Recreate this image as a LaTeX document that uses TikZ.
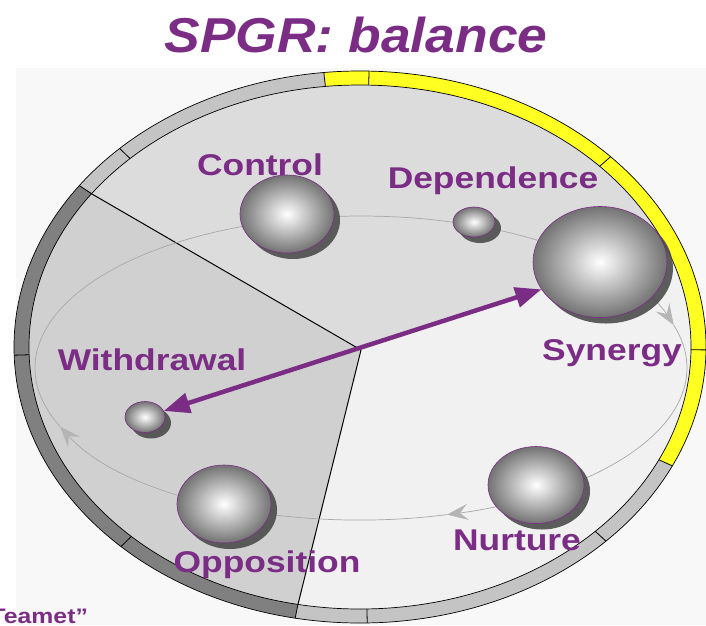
\documentclass[tikz,border=0pt]{standalone}
\usepackage{fontspec}
\usetikzlibrary{arrows.meta,shapes.geometric,shadows,positioning}
\newfontfamily\lblfont[FakeStretch=1.18]{Liberation Sans}
\newfontfamily\ttlfont[FakeStretch=1.09]{Liberation Sans}
\definecolor{cPurp}{HTML}{7B2D86}
\definecolor{cBG}{HTML}{F8F8F8}
\definecolor{cRimLt}{HTML}{C4C4C4}
\definecolor{cRimDk}{HTML}{808080}
\definecolor{cRimYl}{HTML}{FFFF22}
\definecolor{cWdr}{HTML}{D0D0D0}
\definecolor{cUp}{HTML}{DCDCDC}
\definecolor{cLow}{HTML}{F1F1F1}
\definecolor{cOrbit}{HTML}{A8A8A8}
\tikzset{
  rim/.style={draw=black,line width=0.7pt},
  tickline/.style={black,line width=0.8pt},
  pie/.style={black,line width=1pt},
  orbit/.style={cOrbit,line width=0.7pt,
                -{Stealth[length=21pt,width=16pt,inset=8pt,fill=cOrbit!85,color=cOrbit!85]}},
  sphere/.style={ellipse,draw=cPurp,line width=0.6pt,inner sep=0pt,
                 inner color=white,outer color=black!55,
                 drop shadow={shadow xshift=6pt,shadow yshift=-6pt,fill=black!70,opacity=0.9}},
  lbl/.style={font=\lblfont\bfseries\fontsize{30}{36}\selectfont,text=cPurp,
              anchor=base,inner sep=0pt},
  ttl/.style={font=\ttlfont\bfseries\itshape\fontsize{49}{58}\selectfont,text=cPurp,
              anchor=base,inner sep=0pt},
  link/.style={{Triangle[length=26pt,width=20pt]}-{Triangle[length=26pt,width=20pt]},
               line width=4.5pt,cPurp},
}
\begin{document}
\begin{tikzpicture}[x=1pt,y=-1pt]
\useasboundingbox (0,0) rectangle (706,625);
\clip (0,0) rectangle (706,625);
\fill[white] (0,0) rectangle (706,625);
\fill[cBG] (16,68) rectangle (706,625);

% ============ RIM + SECTORS ============
\begin{scope}[shift={(360,347)}]
  \foreach \a/\b/\col in {100.8/215.8/cRimDk,215.8/264/cRimLt,264/385.5/cRimYl,385.5/460.8/cRimLt}
    \fill[\col] (0,0) -- (\a:346 and 276) arc[start angle=\a,end angle=\b,x radius=346,y radius=276] -- cycle;
  % inner sectors
  \fill[cWdr] (1,3) -- (100.8:331 and 262) arc[start angle=100.8,end angle=215.8,x radius=331,y radius=262] -- cycle;
  \fill[cUp] (1,3) -- (215.8:331 and 262) arc[start angle=215.8,end angle=338.3,x radius=331,y radius=262] -- cycle;
  \fill[cLow] (1,3) -- (338.3:331 and 262) arc[start angle=338.3,end angle=460.8,x radius=331,y radius=262] -- cycle;
  \foreach \a in {25.5,44.7,88.8,100.8,133.7,178.3,215.8,226,264,271.5,316.4,360.6}
    \draw[tickline] (\a:331 and 262) -- (\a:346 and 276);
  \draw[rim] (0,0) ellipse[x radius=346,y radius=276];
  \draw[rim] (0,0) ellipse[x radius=331,y radius=262];
  \draw[pie] (1,3) -- (215.8:331 and 262);
  \draw[pie] (1,3) -- (100.8:331 and 262);
\end{scope}

% ============ ORBIT ============
\begin{scope}[shift={(361,368)}]
  \draw[orbit] (-202.6:326 and 152) arc[start angle=-202.6,end angle=-16.4,x radius=326,y radius=152];
  \draw[orbit] (-16.4:326 and 152) arc[start angle=-16.4,end angle=74.7,x radius=326,y radius=152];
  \draw[orbit] (74.7:326 and 152) arc[start angle=74.7,end angle=157.4,x radius=326,y radius=152];
\end{scope}

% ============ SPHERES ============
\node[sphere,minimum width=94pt,minimum height=78pt] (ctl) at (287,214) {};
\node[sphere,minimum width=42pt,minimum height=30pt] (dep) at (474,222) {};
\node[sphere,minimum width=134pt,minimum height=111pt] (syn) at (600,262) {};
\node[sphere,minimum width=40pt,minimum height=31pt] (wdr) at (145,417) {};
\node[sphere,minimum width=94pt,minimum height=78pt] (opp) at (224,504) {};
\node[sphere,minimum width=96pt,minimum height=77pt] (nur) at (536,485) {};

% ---------- balance arrow ----------
\draw[link] (wdr) -- (syn.205);

% ---------- labels ----------
\node[lbl] (lctl) at (260,175) {Control};
\node[lbl] (ldep) at (493,188) {Dependence};
\node[lbl] (lsyn) at (612,360) {Synergy};
\node[lbl] (lwdr) at (152,370) {Withdrawal};
\node[lbl] (lopp) at (267,572) {Opposition};
\node[lbl] (lnur) at (517,550) {Nurture};
\node[lbl,anchor=base west,font=\lblfont\bfseries\fontsize{21}{25}\selectfont] (team) at (-22,623) {“Teamet”};

% ============ TITLE ============
\node[ttl] (title) at (356,52) {SPGR: balance};

\end{tikzpicture}
\end{document}
